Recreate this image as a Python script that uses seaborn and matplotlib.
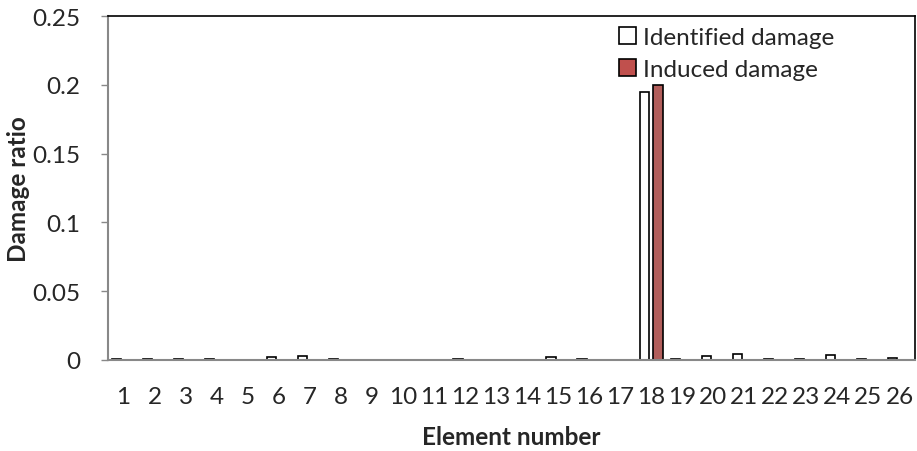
import numpy as np
import matplotlib
matplotlib.use("Agg")
import matplotlib.pyplot as plt
import seaborn as sns
import pandas as pd
from matplotlib.patches import Patch

fs = 17.5

elements = [str(i) for i in range(1, 27)]
identified = [0.0005, 0.0005, 0.0005, 0.0005, 0.0, 0.002, 0.003, 0.0005, 0.0, 0.0,
              0.0, 0.0005, 0.0, 0.0, 0.0025, 0.0005, 0.0, 0.195, 0.001, 0.003,
              0.004, 0.0005, 0.0005, 0.0035, 0.0005, 0.0015]
induced = [0.0] * 17 + [0.2] + [0.0] * 8
series = ['Identified damage', 'Induced damage']

dat = pd.DataFrame({
    'Element': elements * 2,
    'Damage': identified + induced,
    'Series': [series[0]] * 26 + [series[1]] * 26,
})

sns.set_style("white")
plt.rcParams['font.family'] = ['Lato', 'DejaVu Sans']

fig = plt.figure(figsize=(9.17, 4.52), dpi=100)
ax = fig.add_axes([108/917, 1-361/452, (915-108)/917, (361-17)/452])

pal = {series[0]: 'white', series[1]: '#C0504D'}
sns.barplot(data=dat, x='Element', y='Damage', hue='Series', palette=pal,
            width=0.9, gap=0.33, edgecolor='black', linewidth=1.2, ax=ax,
            legend=False)

ax.set_ylim(0, 0.25)
ax.set_yticks([0, 0.05, 0.1, 0.15, 0.2, 0.25])
ax.set_yticklabels(['0', '0.05', '0.1', '0.15', '0.2', '0.25'], fontsize=fs)
ax.set_xlim(-0.5, 25.5)
ax.tick_params(axis='x', labelsize=fs, length=0, pad=19)
ax.tick_params(axis='y', labelsize=fs, length=5, width=1, color='#888888',
               direction='out', left=True, pad=15)

for s in ['left', 'bottom']:
    ax.spines[s].set_color('#888888')
    ax.spines[s].set_linewidth(1.5)
for s in ['top', 'right']:
    ax.spines[s].set_color('black')
    ax.spines[s].set_linewidth(1.2)

ax.set_xlabel('Element number', fontsize=fs, fontweight='bold')
ax.set_ylabel('Damage ratio', fontsize=fs, fontweight='bold')
ax.xaxis.set_label_coords(0.5, -0.19)
ax.yaxis.set_label_coords(-0.097, 0.5)

handles = [Patch(facecolor='white', edgecolor='black', linewidth=1.2),
           Patch(facecolor='#C0504D', edgecolor='black', linewidth=1.2)]
ax.legend(handles, series, loc='upper left', bbox_to_anchor=(607/917, 1-16/452),
          bbox_transform=fig.transFigure, frameon=False, fontsize=fs,
          handlelength=0.7, handleheight=0.7, handletextpad=0.3,
          labelspacing=0.45, borderpad=0)

fig.savefig('out.png', dpi=100)
